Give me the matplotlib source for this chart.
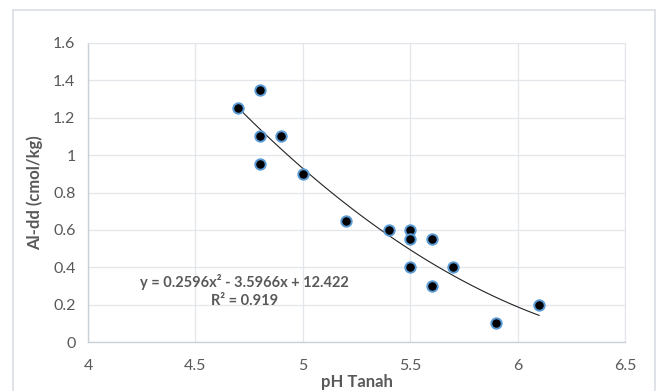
import numpy as np
import matplotlib.pyplot as plt
from matplotlib.patches import Rectangle

# data
ph = [4.7, 4.8, 4.8, 4.8, 4.9, 5.0, 5.2, 5.4, 5.5, 5.5, 5.5, 5.6, 5.6, 5.7, 5.9, 6.1]
al = [1.25, 1.35, 1.1, 0.95, 1.1, 0.9, 0.65, 0.6, 0.6, 0.55, 0.4, 0.55, 0.3, 0.4, 0.1, 0.2]
coef = [0.2596, -3.5966, 12.422]
x_ticks = [4, 4.5, 5, 5.5, 6, 6.5]
y_ticks = [0, 0.2, 0.4, 0.6, 0.8, 1, 1.2, 1.4, 1.6]

plt.rcParams['font.family'] = ['Lato', 'DejaVu Sans']
grey = '#595959'

fig = plt.figure(figsize=(6.58, 3.91), dpi=100)
ax = fig.add_axes([88 / 658, 1 - 342 / 391, 537 / 658, 299 / 391])

# outer chart border
fig.patches.append(Rectangle((13 / 658, -0.05), 642 / 658, 1.05 - 10 / 391,
                             transform=fig.transFigure, fill=False,
                             edgecolor='#d9dde3', linewidth=1.2))

xs = np.linspace(min(ph), max(ph), 100)
ax.plot(xs, np.polyval(coef, xs), color='#222222', linewidth=0.8, zorder=2)
ax.plot(ph, al, 'o', markersize=7.5, markerfacecolor='black',
        markeredgecolor='#5b9bd5', markeredgewidth=1.4, zorder=3)

ax.set_xlim(4, 6.5)
ax.set_ylim(0, 1.6)
ax.set_xticks(x_ticks)
ax.set_xticklabels(['4', '4.5', '5', '5.5', '6', '6.5'])
ax.set_yticks(y_ticks)
ax.set_yticklabels(['0', '0.2', '0.4', '0.6', '0.8', '1', '1.2', '1.4', '1.6'])
ax.grid(True, color='#e3e6ea', linewidth=0.9)
ax.set_axisbelow(True)
for s in ['top', 'right']:
    ax.spines[s].set_color('#e3e6ea')
for s in ['left', 'bottom']:
    ax.spines[s].set_color('#c9d0d8')
    ax.spines[s].set_linewidth(1.0)
ax.tick_params(length=0, labelsize=11.5, colors=grey)
ax.tick_params(axis='x', pad=12)
ax.tick_params(axis='y', pad=9)

ax.set_xlabel('pH Tanah', fontsize=12, fontweight='bold', color=grey, labelpad=1)
ax.set_ylabel('Al-dd (cmol/kg)', fontsize=12, fontweight='bold', color=grey, labelpad=7)

ax.text(4.73, 0.32, 'y = 0.2596x² - 3.5966x + 12.422', ha='center', va='center',
        fontsize=10.5, fontweight='bold', color=grey)
ax.text(4.73, 0.22, 'R² = 0.919', ha='center', va='center',
        fontsize=10.5, fontweight='bold', color=grey)

fig.savefig('out.png', dpi=100)
